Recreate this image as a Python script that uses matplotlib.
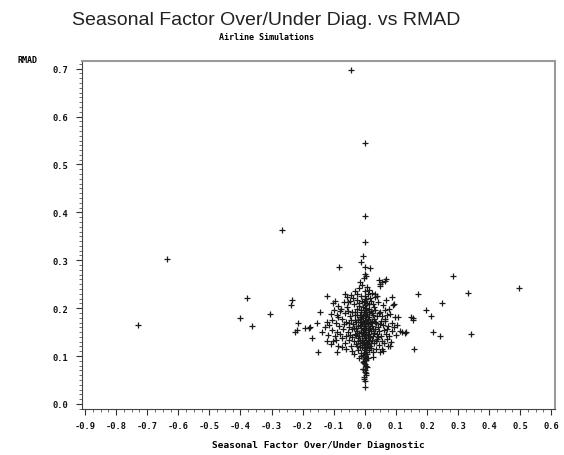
import matplotlib
matplotlib.use("Agg")
import matplotlib.pyplot as plt
from matplotlib.ticker import MultipleLocator, FuncFormatter

plt.rcParams["axes.unicode_minus"] = False

#Outlying points (diagnostic, RMAD)
outliers = [
    (-0.044, 0.697), (0.000, 0.545), (0.000, 0.392), (0.000, 0.338), (-0.265, 0.363),
    (-0.635, 0.303), (-0.729, 0.165), (-0.379, 0.221), (-0.233, 0.217), (-0.237, 0.207),
    (-0.401, 0.180), (-0.304, 0.188), (-0.362, 0.163), (-0.214, 0.169), (-0.217, 0.155),
    (-0.223, 0.150), (-0.192, 0.159), (-0.181, 0.159), (0.284, 0.267), (0.497, 0.242),
    (0.333, 0.232), (0.172, 0.230), (0.249, 0.211), (0.197, 0.196), (0.213, 0.184),
    (0.218, 0.150), (0.243, 0.142), (0.342, 0.146), (0.159, 0.115), (0.149, 0.182),
    (0.155, 0.175), (0.130, 0.148), (0.120, 0.150), (0.104, 0.165), (0.098, 0.182),
    (0.089, 0.224), (0.092, 0.207), (0.082, 0.188), (0.076, 0.121), (0.060, 0.111),
    (0.069, 0.261), (0.055, 0.254), (0.046, 0.259), (0.050, 0.246), (0.017, 0.284),
    (-0.083, 0.286), (-0.005, 0.309), (-0.012, 0.297), (0.000, 0.286), (0.000, 0.271),
    (-0.121, 0.225), (-0.102, 0.211), (-0.144, 0.192), (-0.175, 0.161), (-0.169, 0.138),
    (-0.150, 0.109), (-0.153, 0.169), (-0.137, 0.150), (-0.127, 0.161), (-0.121, 0.132),
    (-0.102, 0.132), (-0.073, 0.119), (-0.041, 0.111), (0.050, 0.108), (0.056, 0.115),
    (0.082, 0.121), (0.095, 0.209), (0.108, 0.182), (0.114, 0.152), (0.133, 0.150),
    (0.155, 0.180), (-0.121, 0.171), (-0.089, 0.186), (-0.079, 0.194), (-0.063, 0.230),
    (-0.053, 0.213), (-0.056, 0.223), (-0.015, 0.255), (-0.025, 0.230), (0.034, 0.223),
    (0.027, 0.209), (0.050, 0.251), (0.066, 0.257), (0.033, 0.230), (0.050, 0.192),
    (0.066, 0.173), (0.072, 0.157), (0.003, 0.268), (-0.004, 0.262),
]

#Dense cluster around zero
cluster = [
    (-0.045, 0.228), (-0.030, 0.236), (-0.018, 0.242), (-0.008, 0.248), (0.006, 0.244),
    (0.012, 0.238), (0.022, 0.232), (-0.038, 0.221), (0.040, 0.226), (-0.012, 0.226),
    (0.009, 0.229), (-0.085, 0.205), (-0.066, 0.212), (-0.058, 0.203), (-0.047, 0.216),
    (-0.035, 0.208), (-0.026, 0.218), (-0.020, 0.204), (-0.010, 0.214), (0.005, 0.219),
    (0.014, 0.208), (0.021, 0.216), (0.031, 0.203), (0.044, 0.212), (0.058, 0.206),
    (0.068, 0.217), (-0.095, 0.214), (-0.110, 0.187), (-0.098, 0.196), (-0.087, 0.182),
    (-0.076, 0.199), (-0.064, 0.189), (-0.055, 0.195), (-0.048, 0.183), (-0.040, 0.192),
    (-0.032, 0.186), (-0.024, 0.198), (-0.017, 0.181), (-0.011, 0.191), (-0.006, 0.184),
    (0.004, 0.196), (0.008, 0.187), (0.015, 0.181), (0.019, 0.194), (0.026, 0.185),
    (0.034, 0.197), (0.039, 0.183), (0.047, 0.190), (0.056, 0.184), (0.064, 0.196),
    (0.072, 0.185), (0.078, 0.199), (-0.115, 0.165), (-0.104, 0.176), (-0.093, 0.168),
    (-0.083, 0.162), (-0.074, 0.178), (-0.068, 0.166), (-0.059, 0.172), (-0.051, 0.161),
    (-0.044, 0.176), (-0.037, 0.167), (-0.029, 0.172), (-0.022, 0.163), (-0.016, 0.177),
    (-0.009, 0.169), (-0.004, 0.162), (0.005, 0.175), (0.010, 0.166), (0.016, 0.171),
    (0.023, 0.162), (0.029, 0.178), (0.036, 0.168), (0.042, 0.161), (0.051, 0.173),
    (0.059, 0.165), (0.066, 0.178), (0.074, 0.163), (0.086, 0.169), (0.095, 0.161),
    (-0.118, 0.145), (-0.106, 0.154), (-0.097, 0.142), (-0.088, 0.151), (-0.079, 0.146),
    (-0.071, 0.157), (-0.062, 0.141), (-0.055, 0.150), (-0.047, 0.144), (-0.041, 0.156),
    (-0.033, 0.147), (-0.026, 0.153), (-0.019, 0.141), (-0.013, 0.158), (-0.007, 0.148),
    (0.004, 0.143), (0.009, 0.155), (0.014, 0.147), (0.020, 0.152), (0.027, 0.141),
    (0.033, 0.157), (0.039, 0.146), (0.046, 0.152), (0.053, 0.142), (0.061, 0.155),
    (0.069, 0.147), (0.078, 0.142), (0.088, 0.153), (0.101, 0.144), (-0.110, 0.125),
    (-0.094, 0.133), (-0.085, 0.122), (-0.072, 0.137), (-0.064, 0.128), (-0.052, 0.134),
    (-0.045, 0.121), (-0.036, 0.131), (-0.028, 0.125), (-0.021, 0.138), (-0.014, 0.128),
    (-0.008, 0.134), (0.006, 0.126), (0.011, 0.137), (0.018, 0.122), (0.024, 0.133),
    (0.031, 0.127), (0.038, 0.136), (0.045, 0.124), (0.054, 0.131), (0.063, 0.127),
    (0.071, 0.135), (0.084, 0.129), (-0.088, 0.108), (-0.060, 0.115), (-0.034, 0.104),
    (-0.022, 0.112), (-0.012, 0.107), (0.008, 0.104), (0.014, 0.116), (0.025, 0.109),
    (0.037, 0.114), (0.028, 0.098), (-0.018, 0.095), (-0.006, 0.088), (0.005, 0.092),
    (0.006, 0.078), (-0.005, 0.072), (0.004, 0.064), (-0.003, 0.057),
    (-0.031, 0.192), (-0.015, 0.186), (0.012, 0.199), (0.024, 0.174), (-0.027, 0.158),
    (-0.013, 0.151), (0.017, 0.159), (0.031, 0.149), (-0.023, 0.131), (0.021, 0.128),
    (-0.040, 0.139), (0.043, 0.139), (-0.050, 0.168), (0.048, 0.166), (-0.006, 0.203),
    (0.007, 0.211), (-0.017, 0.119), (0.013, 0.112), (-0.008, 0.118), (0.007, 0.121),
    (-0.021, 0.176), (-0.011, 0.172), (0.011, 0.178), (0.019, 0.168), (-0.019, 0.149),
    (-0.010, 0.142), (0.010, 0.146), (0.017, 0.139), (-0.016, 0.133), (0.015, 0.131),
    (-0.026, 0.186), (0.022, 0.189), (-0.012, 0.197), (0.013, 0.192), (-0.029, 0.143),
    (0.026, 0.156), (-0.009, 0.124), (0.009, 0.128), (-0.019, 0.210), (0.016, 0.222),
    (-0.033, 0.176), (0.032, 0.171), (-0.035, 0.158), (0.037, 0.131), (-0.011, 0.101),
    (0.010, 0.097), (-0.024, 0.121), (0.020, 0.117), (-0.014, 0.164), (0.013, 0.158),
]

#Column of points sitting right on zero
column_x = [0.000, 0.000, -0.004, 0.004, 0.000, -0.005, 0.003, 0.000, -0.003, 0.005,
            0.000, -0.006, 0.004, 0.000, -0.004, 0.006, 0.000, -0.005, 0.003, 0.000,
            -0.003, 0.005, 0.000, -0.006, 0.004, 0.000, -0.004, 0.006, 0.000, -0.005,
            0.003, 0.000, -0.003, 0.000, 0.004, 0.000, -0.004, 0.000, 0.002, 0.000,
            0.002, -0.002, 0.001, -0.001, 0.003, -0.003, 0.002, -0.002, 0.001, 0.000]
column_y = [0.035, 0.048, 0.053, 0.061, 0.067, 0.074, 0.079, 0.084, 0.089, 0.095,
            0.099, 0.103, 0.108, 0.112, 0.116, 0.121, 0.124, 0.129, 0.133, 0.138,
            0.141, 0.146, 0.150, 0.154, 0.158, 0.163, 0.166, 0.171, 0.174, 0.179,
            0.183, 0.188, 0.192, 0.197, 0.201, 0.207, 0.213, 0.219, 0.226, 0.236,
            0.071, 0.086, 0.093, 0.106, 0.118, 0.127, 0.143, 0.156, 0.168, 0.185]

xs = [p[0] for p in outliers + cluster] + column_x
ys = [p[1] for p in outliers + cluster] + column_y

fig = plt.figure(figsize=(5.64, 4.56), dpi=100)
ax = fig.add_axes([0.1454, 0.1009, 0.8386, 0.7631])

ax.plot(xs, ys, "+", color="#1a1a1a", markersize=4.6, markeredgewidth=0.9)

ax.set_xlim(-0.91, 0.612)
ax.set_ylim(-0.0105, 0.716)

ax.xaxis.set_major_locator(MultipleLocator(0.1))
ax.xaxis.set_minor_locator(MultipleLocator(0.025))
ax.yaxis.set_major_locator(MultipleLocator(0.1))
ax.yaxis.set_minor_locator(MultipleLocator(0.01))
fmt = FuncFormatter(lambda v, pos: f"{round(v, 1) + 0.0:.1f}")
ax.xaxis.set_major_formatter(fmt)
ax.yaxis.set_major_formatter(fmt)

for lab in ax.get_xticklabels() + ax.get_yticklabels():
    lab.set_fontfamily("DejaVu Sans Mono")
    lab.set_fontweight("bold")
    lab.set_fontsize(6.3)

ax.tick_params(axis="both", which="major", direction="out", length=4, width=0.8,
               color="#333333", labelcolor="#111111")
ax.tick_params(axis="both", which="minor", direction="out", length=2, width=0.6,
               color="#555555")
ax.tick_params(axis="x", pad=5)
ax.tick_params(axis="y", pad=6)

for s in ["left", "bottom"]:
    ax.spines[s].set_color("#444444")
    ax.spines[s].set_linewidth(0.8)
for s in ["top", "right"]:
    ax.spines[s].set_color("#9a9a9a")
    ax.spines[s].set_linewidth(1.5)

ax.set_xlabel("Seasonal Factor Over/Under Diagnostic", fontfamily="DejaVu Sans Mono",
              fontweight="bold", fontsize=6.8, labelpad=7)

fig.text(0.048, 0.868, "RMAD", fontfamily="DejaVu Sans Mono", fontweight="bold",
         fontsize=6, ha="center", va="center")
fig.text(0.472, 0.955, "Seasonal Factor Over/Under Diag. vs RMAD",
         fontfamily="Liberation Sans", fontsize=14, ha="center", va="center",
         color="#222222")
fig.text(0.472, 0.918, "Airline Simulations", fontfamily="DejaVu Sans Mono",
         fontweight="bold", fontsize=6, ha="center", va="center")

fig.savefig("out.png", dpi=100)
